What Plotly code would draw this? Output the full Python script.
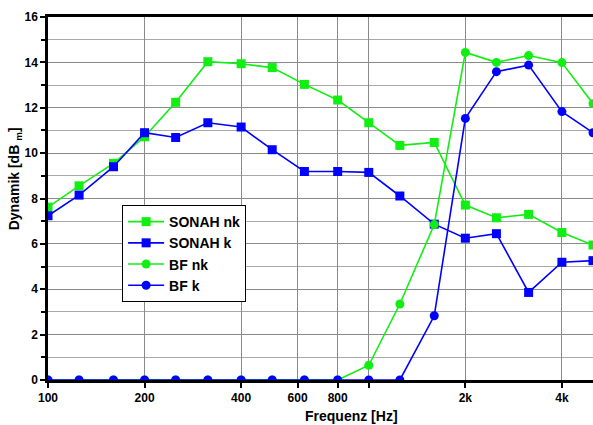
import plotly.graph_objects as go

freqs = [100, 125, 160, 200, 250, 315, 400, 500, 630, 800, 1000, 1250, 1600, 2000, 2500, 3150, 4000, 5000]
sonah_nk = [7.62, 8.56, 9.55, 10.72, 12.24, 14.03, 13.94, 13.77, 13.03, 12.34, 11.34, 10.34, 10.47, 7.71, 7.15, 7.3, 6.5, 5.95]
sonah_k = [7.24, 8.15, 9.40, 10.9, 10.69, 11.34, 11.15, 10.15, 9.19, 9.19, 9.15, 8.11, 6.87, 6.25, 6.45, 3.86, 5.19, 5.26]
bf_nk = [0, 0, 0, 0, 0, 0, 0, 0, 0, 0, 0.65, 3.35, 6.85, 14.44, 14.0, 14.3, 13.99, 12.18]
bf_k = [0, 0, 0, 0, 0, 0, 0, 0, 0, 0, 0, 0, 2.83, 11.53, 13.59, 13.88, 11.83, 10.9]

x_tickvals = [100, 200, 400, 600, 800, 1000, 2000, 4000]
x_ticktext = ["100", "200", "400", "600", "800", "", "2k", "4k"]

x_title = "Frequenz [Hz]"
y_title = "Dynamik [dB <sub>m</sub>]"

GREEN = "#11ee11"
BLUE = "#0000ff"
FONT = "Liberation Sans, Arial, sans-serif"

fig = go.Figure()
series = [
    ("SONAH nk", sonah_nk, GREEN, "square"),
    ("SONAH k", sonah_k, BLUE, "square"),
    ("BF nk", bf_nk, GREEN, "circle"),
    ("BF k", bf_k, BLUE, "circle"),
]
for name, vals, col, sym in series:
    fig.add_trace(go.Scatter(
        x=freqs, y=vals, name=name, mode="lines+markers",
        line=dict(color=col, width=1.6),
        marker=dict(color=col, symbol=sym, size=9, line=dict(width=0)),
        cliponaxis=True,
    ))

fig.update_layout(
    width=593, height=425,
    margin=dict(l=48, r=0, t=17, b=45, autoexpand=False),
    plot_bgcolor="white", paper_bgcolor="white",
    font=dict(family=FONT, size=12, color="black"),
    showlegend=True,
    legend=dict(
        x=0.136, y=0.482, xanchor="left", yanchor="top",
        bgcolor="white", bordercolor="black", borderwidth=1,
        font=dict(family=FONT, size=14, color="black", weight="bold"),
        tracegroupgap=0, itemwidth=36,
    ),
    xaxis=dict(
        type="log", range=[2, 3.699], automargin=False,
        tickvals=x_tickvals, ticktext=x_ticktext,
        showgrid=True, gridcolor="#8a8a8a", gridwidth=1.2,
        showline=True, linecolor="black", linewidth=2.5, mirror=True,
        ticks="outside", ticklen=5, tickwidth=2, tickcolor="black",
        tickfont=dict(family=FONT, size=12, weight="bold"),
        zeroline=False,
    ),
    yaxis=dict(
        range=[0, 16], dtick=2, tick0=0, automargin=False,
        showgrid=True, gridcolor="#8a8a8a", gridwidth=1.2,
        showline=True, linecolor="black", linewidth=2.5,
        ticks="outside", ticklen=5, tickwidth=2, tickcolor="black",
        tickfont=dict(family=FONT, size=12, weight="bold"),
        minor=dict(dtick=1, showgrid=True, gridcolor="#a8a8a8", gridwidth=1.2,
                   ticks="outside", ticklen=4, tickcolor="black", tickwidth=1.5),
        zeroline=False,
    ),
    annotations=[
        dict(text=x_title, xref="paper", yref="paper", x=0.556, y=-0.099,
             xanchor="center", yanchor="middle", showarrow=False,
             font=dict(family=FONT, size=14, weight="bold")),
        dict(text=y_title, xref="paper", yref="paper", x=-0.061, y=0.555,
             xanchor="center", yanchor="middle", showarrow=False, textangle=-90,
             font=dict(family=FONT, size=14, weight="bold")),
    ],
)

fig.write_html("out.html", config={"displayModeBar": False})

# remove default page margin so the figure sits at the window's top-left corner
with open("out.html", "r", encoding="utf-8") as f:
    html = f.read()
html = html.replace("<body>", '<body style="margin:0;padding:0;overflow:hidden">', 1)
with open("out.html", "w", encoding="utf-8") as f:
    f.write(html)
